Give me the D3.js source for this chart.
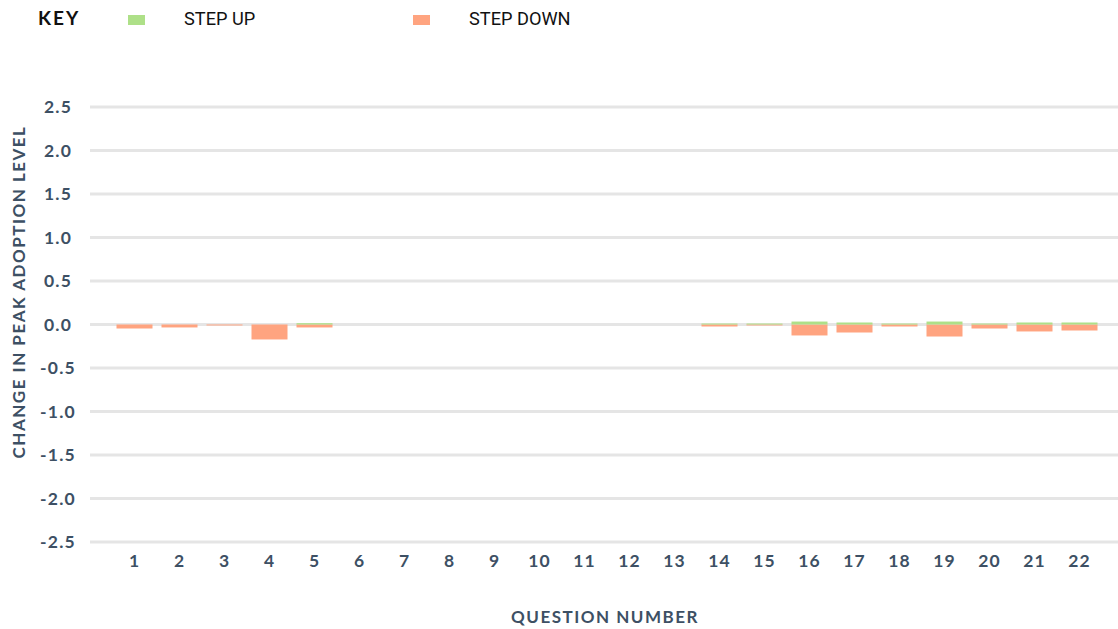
<!DOCTYPE html>
<html><head><meta charset="utf-8">
<script src="https://cdn.jsdelivr.net/npm/d3@7"></script>
<style>
html,body{margin:0;padding:0;background:#fff;}
svg{display:block;}
</style></head>
<body>
<svg id="chart" width="1118" height="629"></svg>
<script>
const questions = ["1","2","3","4","5","6","7","8","9","10","11","12","13","14","15","16","17","18","19","20","21","22"];
const stepUp   = [0, 0, 0, 0, 0.015, 0, 0, 0, 0, 0, 0, 0, 0, 0.011, 0.011, 0.034, 0.023, 0.011, 0.034, 0.011, 0.023, 0.023];
const stepDown = [-0.046, -0.034, -0.011, -0.172, -0.034, 0, 0, 0, 0, 0, 0, 0, 0, -0.023, -0.011, -0.126, -0.092, -0.023, -0.138, -0.046, -0.080, -0.069];
const yTicks = [-2.5,-2,-1.5,-1,-0.5,0,0.5,1,1.5,2,2.5];
const legendItems = ["STEP UP","STEP DOWN"];
const colors = {up:"#aee088", down:"#ffa480"};
const textCol = "#3d5064";

const svg = d3.select("#chart");
const x = d3.scaleBand().domain(questions).range([112, 1102]).paddingInner(0.2).paddingOuter(0.1);
const y = d3.scaleLinear().domain([-2.5, 2.5]).range([542, 107]);

// gridlines
svg.append("g").selectAll("line").data(yTicks).join("line")
  .attr("x1", 90).attr("x2", 1118)
  .attr("y1", d => y(d)).attr("y2", d => y(d))
  .attr("stroke", "#e5e5e5").attr("stroke-width", 3);

// y tick labels
svg.append("g").selectAll("text").data(yTicks).join("text")
  .attr("x", 58).attr("y", d => y(d)).attr("dy", "0.36em")
  .attr("text-anchor", "middle")
  .attr("font-family", "Lato, sans-serif").attr("font-weight", 700)
  .attr("font-size", 17.5).attr("letter-spacing", 1.2)
  .attr("fill", textCol)
  .text(d => d3.format(".1f")(d).replace("−","-"));

// x tick labels
svg.append("g").selectAll("text").data(questions).join("text")
  .attr("x", d => x(d) + x.bandwidth()/2).attr("y", 561).attr("dy", "0.36em")
  .attr("text-anchor", "middle")
  .attr("font-family", "Lato, sans-serif").attr("font-weight", 700)
  .attr("font-size", 17.5).attr("letter-spacing", 1)
  .attr("fill", textCol)
  .text(d => d);

// bars
const rows = questions.map((q,i) => ({q, up: stepUp[i], down: stepDown[i]}));
svg.append("g").selectAll("rect").data(rows).join("rect")
  .attr("x", d => x(d.q)).attr("width", x.bandwidth())
  .attr("y", y(0)).attr("height", d => y(d.down) - y(0))
  .attr("fill", colors.down);
svg.append("g").selectAll("rect").data(rows).join("rect")
  .attr("x", d => x(d.q)).attr("width", x.bandwidth())
  .attr("y", d => y(d.up)).attr("height", d => y(0) - y(d.up))
  .attr("fill", colors.up);

// axis titles
svg.append("text")
  .attr("transform", "translate(25,292) rotate(-90)")
  .attr("text-anchor", "middle")
  .attr("font-family", "Lato, sans-serif").attr("font-weight", 700)
  .attr("font-size", 17).attr("letter-spacing", 1.5)
  .attr("fill", textCol)
  .text("CHANGE IN PEAK ADOPTION LEVEL");
svg.append("text")
  .attr("x", 605).attr("y", 623)
  .attr("text-anchor", "middle")
  .attr("font-family", "Lato, sans-serif").attr("font-weight", 700)
  .attr("font-size", 17).attr("letter-spacing", 1.5)
  .attr("fill", textCol)
  .text("QUESTION NUMBER");

// legend
const lg = svg.append("g");
lg.append("text").attr("x", 38).attr("y", 25)
  .attr("font-family", "Lato, sans-serif").attr("font-weight", 700)
  .attr("font-size", 19).attr("letter-spacing", 2).attr("fill", "#111")
  .text("KEY");
const legX = [128, 413];
const legColors = [colors.up, colors.down];
lg.selectAll("rect").data(legendItems).join("rect")
  .attr("x", (d,i) => legX[i]).attr("y", 15).attr("width", 17).attr("height", 10)
  .attr("fill", (d,i) => legColors[i]);
lg.selectAll("text.l").data(legendItems).join("text").attr("class","l")
  .attr("x", (d,i) => legX[i] + 56).attr("y", 25)
  .attr("font-family", "Roboto, sans-serif").attr("font-size", 18.2)
  .attr("fill", "#111")
  .text(d => d);
</script>
</body></html>
